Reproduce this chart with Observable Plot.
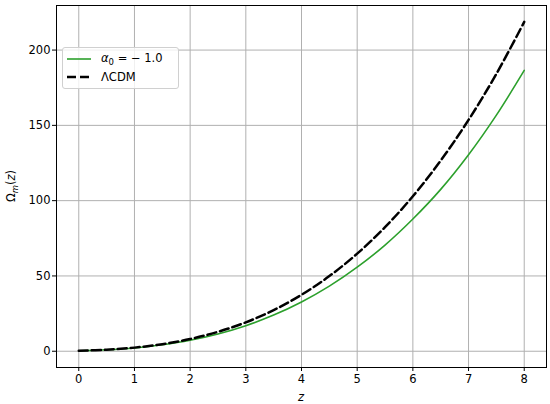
<!DOCTYPE html>
<html><head><meta charset="utf-8">
<script src="https://cdn.jsdelivr.net/npm/d3@7"></script>
<script src="https://cdn.jsdelivr.net/npm/@observablehq/plot@0.6"></script>
<style>
body{margin:0;background:#fff;font-family:"DejaVu Sans",sans-serif}
#wrap{position:relative;width:550px;height:404px}
#legend{position:absolute;left:62px;top:47px;width:115px;height:40px;border:1px solid #d0d0d0;border-radius:3px;background:rgba(255,255,255,0.8);font-size:11.5px;color:#000}
.row{position:absolute;left:0;height:16px;display:flex;align-items:center}
.row svg{margin-left:4px;margin-right:10px}
</style>
</head><body><div id="wrap"><div id="legend"></div></div>
<script>
const z     = [0, 0.5, 1, 1.5, 2, 2.5, 3, 3.5, 4, 4.5, 5, 5.5, 6, 6.5, 7, 7.5, 8];
const lcdm  = [0.3, 1.0, 2.4, 4.7, 8.1, 12.9, 19.2, 27.3, 37.5, 49.9, 64.8, 82.4, 102.9, 126.6, 153.6, 184.2, 218.7];
const alpha = [0.3, 0.95, 2.2, 4.3, 7.3, 11.5, 17.0, 24.0, 32.7, 43.2, 55.8, 70.5, 87.8, 107.5, 130.5, 156.8, 186.5];
const xTicks = [0, 1, 2, 3, 4, 5, 6, 7, 8];
const yTicks = [0, 50, 100, 150, 200];
const seriesNames = ["α0 = − 1.0", "ΛCDM"];

const data = z.map((v, i) => ({z: v, lcdm: lcdm[i], alpha: alpha[i]}));

const chart = Plot.plot({
  width: 550, height: 404,
  marginLeft: 56, marginRight: 4, marginTop: 5, marginBottom: 37,
  style: {fontFamily: "DejaVu Sans", fontSize: "11.5px", color: "black", background: "white"},
  x: {domain: [-0.4, 8.4], ticks: xTicks, tickSize: 4, tickPadding: 3, label: null, tickFormat: d => String(d)},
  y: {domain: [-10.8, 229.6], ticks: yTicks, tickSize: 4, tickPadding: 2, label: null, tickFormat: d => String(d)},
  marks: [
    Plot.gridX(xTicks, {stroke: "#b0b0b0", strokeOpacity: 1, strokeWidth: 1}),
    Plot.gridY(yTicks, {stroke: "#b0b0b0", strokeOpacity: 1, strokeWidth: 1}),
    Plot.line(data, {x: "z", y: "alpha", stroke: "#2ca02c", strokeWidth: 1.6, curve: "catmull-rom"}),
    Plot.line(data, {x: "z", y: "lcdm", stroke: "black", strokeWidth: 2.5, strokeDasharray: "9,4", curve: "catmull-rom"}),
    Plot.frame({stroke: "black", strokeWidth: 1})
  ]
});
document.getElementById("wrap").prepend(chart);

const svg = d3.select(chart);
// x label
svg.append("text").attr("x", (56 + 546) / 2).attr("y", 401)
  .attr("text-anchor", "middle").attr("font-size", "11.5px").attr("font-style", "italic")
  .attr("font-family", "DejaVu Sans").text("z");
// y label
const yl = svg.append("text").attr("transform", "translate(15,186) rotate(-90)")
  .attr("text-anchor", "middle").attr("font-size", "11.5px").attr("font-family", "DejaVu Sans");
yl.append("tspan").text("Ω");
yl.append("tspan").attr("font-style", "italic").attr("font-size", "8.5px").attr("dy", 3).text("m");
yl.append("tspan").attr("dy", -3).text("(");
yl.append("tspan").attr("font-style", "italic").text("z");
yl.append("tspan").text(")");

// legend
const lg = document.getElementById("legend");
lg.innerHTML =
  `<div class="row" style="top:3px"><svg width="24" height="10"><line x1="0" x2="24" y1="5" y2="5" stroke="#2ca02c" stroke-width="1.6"/></svg><span><i>α</i><sub style="font-size:8.5px">0</sub>&nbsp;= −&nbsp;1.0</span></div>` +
  `<div class="row" style="top:21px"><svg width="24" height="10"><line x1="0" x2="24" y1="5" y2="5" stroke="black" stroke-width="2.5" stroke-dasharray="9,4"/></svg><span>${seriesNames[1]}</span></div>`;
</script>
</body></html>
